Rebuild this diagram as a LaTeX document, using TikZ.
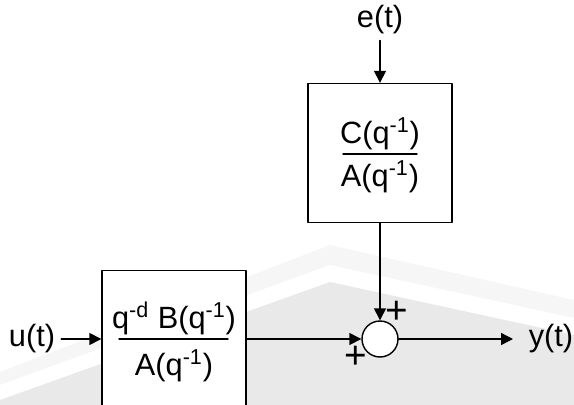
\documentclass[tikz,border=0pt]{standalone}
\usepackage{fontspec}
\setmainfont{Liberation Sans}
\usetikzlibrary{arrows.meta, positioning}

\begin{document}
\begin{tikzpicture}[x=0.02cm, y=-0.02cm, line cap=round, line join=round,
    every node/.style={font=\fontsize{17.5}{20}\selectfont},
    blok/.style={draw, line width=0.8pt, minimum width=2.88cm, inner sep=0pt},
    sig/.style={line width=0.8pt, -{Triangle[length=6.8pt, width=6.8pt]}},
    segno/.style={font=\fontsize{22}{24}\selectfont, inner sep=0pt},
    frac/.style={line width=0.8pt}]
  % margini come nel riferimento
  \useasboundingbox (0,0) rectangle (574,405);
  \clip (0,0) rectangle (574,405);

  % sfondo grigio
  \fill[gray!7] (0,372) -- (330,245) -- (574,300) -- (574,405) -- (0,405) -- cycle;
  \fill[white] (0,385) -- (330,265) -- (574,318) -- (574,405) -- (0,405) -- cycle;
  \fill[gray!17] (0,400) -- (330,282) -- (574,335) -- (574,405) -- (0,405) -- cycle;

  % blocchi
  \node[blok, fill=white, minimum height=2.78cm] (blockC) at (380,153) {};
  \node[blok, fill=white, minimum height=3cm, anchor=north] (blockB) at (174,270) {};
  \node[draw, circle, fill=white, line width=0.8pt, minimum size=0.72cm, inner sep=0pt] (sum) at (380,339) {};

  % funzioni di trasferimento
  \node (numC) at (380,134) {C(q\textsuperscript{-1})};
  \node (denC) at (380,177) {A(q\textsuperscript{-1})};
  \draw[frac] (343,154) -- (417,154);
  \node (numB) at (174,318) {q\textsuperscript{-d} B(q\textsuperscript{-1})};
  \node (denB) at (174,366) {A(q\textsuperscript{-1})};
  \draw[frac] (119,339) -- (228,339);

  % segnali
  \node (et) at (380,20) {e(t)};
  \node (ut) at (32,339) {u(t)};
  \node (yt) at (551,339) {y(t)};
  \coordinate (yin) at (513,339);

  \draw[sig] (et) -- (blockC);
  \draw[sig] (ut) -- (ut -| blockB.west);
  \draw[sig] (blockC) -- (sum);
  \draw[sig] (sum -| blockB.east) -- (sum);
  \draw[sig] (sum) -- (yin);

  % segni
  \node[segno] (plusTop) at (397,312) {+};
  \node[segno] (plusLeft) at (356,357) {+};
\end{tikzpicture}
\end{document}
